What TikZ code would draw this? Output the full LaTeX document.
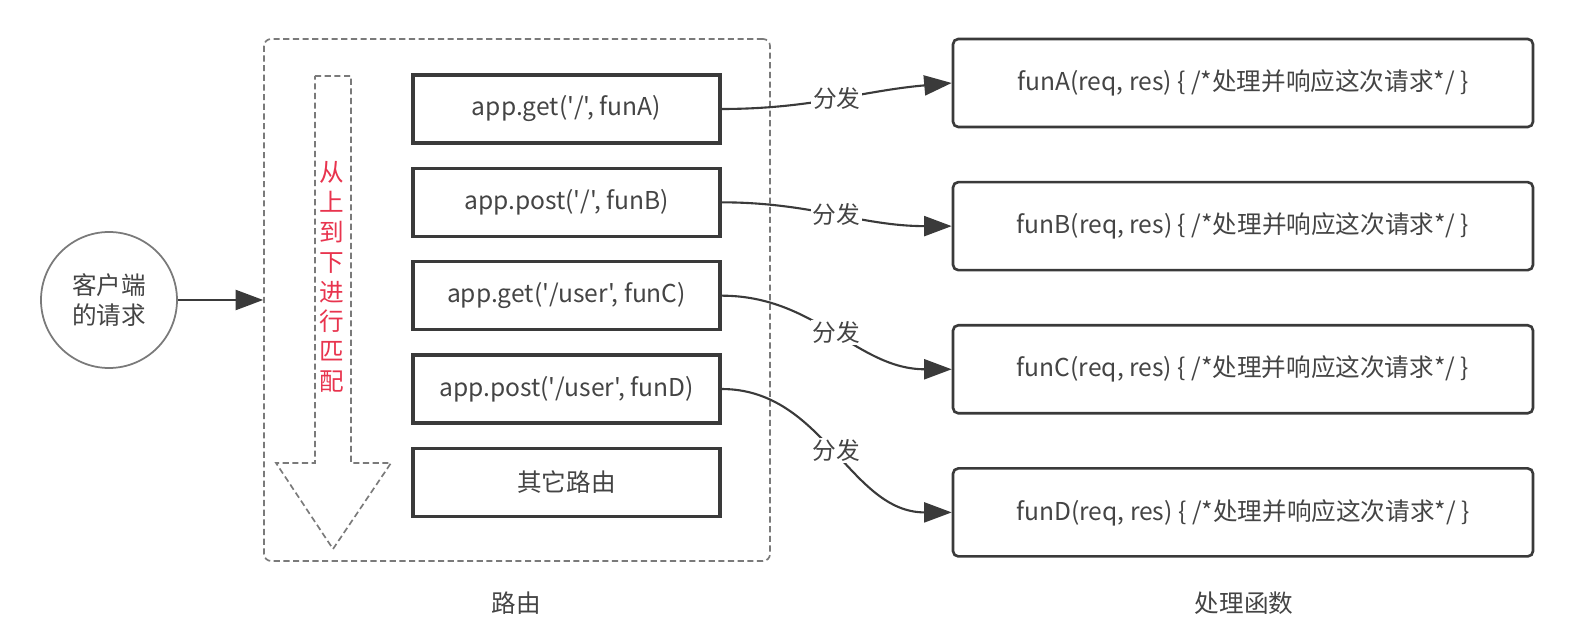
\documentclass[tikz,border=0pt]{standalone}
\usepackage{fontspec}
\setmainfont{Noto Sans CJK SC}[Ligatures=TeXOff]
\usetikzlibrary{positioning,arrows.meta}

\definecolor{linegray}{HTML}{3A3A3A}
\definecolor{textgray}{HTML}{444444}
\definecolor{dashgray}{HTML}{7A7A7A}
\definecolor{matchred}{HTML}{E8344E}

\tikzset{
  txt/.style={text=textgray, font=\fontsize{14}{17}\selectfont},
  routebox/.style={txt, draw=linegray, line width=1.9pt, minimum width=6.14cm, minimum height=1.36cm, inner sep=0pt},
  funbox/.style={txt, draw=linegray, line width=1.5pt, rounded corners=3pt, minimum width=11.6cm, minimum height=1.76cm, inner sep=0pt},
  dashline/.style={draw=dashgray, line width=0.95pt, dash pattern=on 3.5pt off 2pt},
  dispatch/.style={draw=linegray, line width=1.2pt, -{Triangle[length=0.55cm,width=0.4cm]}},
  dispatchlabel/.style={txt, fill=white, inner sep=1pt, font=\fontsize{13.5}{16}\selectfont}
}

\begin{document}
\begin{tikzpicture}
    \useasboundingbox (0,0) rectangle (31.88,12.5);

    % Cliente
    \node[txt, draw=dashgray, line width=1pt, circle, minimum size=2.72cm, align=center] (client) at (2.18,6.5) {客户端\\的请求};

    % Contenedor de rutas
    \node[dashline, rounded corners=4pt, minimum width=10.12cm, minimum height=10.44cm] (routes) at (10.34,6.5) {};
    \draw[dispatch] (client) -- (routes.west);

    % Flecha de orden
    \draw[dashline] (6.3,10.98) -- (7.02,10.98) -- (7.02,3.24) -- (7.82,3.24) -- (6.66,1.52)
        -- (5.52,3.24) -- (6.3,3.24) -- cycle;
    \node[text=matchred, align=center, font=\fontsize{14}{17}\selectfont] (order) at (6.64,6.96)
        {从\\上\\到\\下\\进\\行\\匹\\配};

    % Rutas
    \node[routebox] (rA) at (11.33,10.32) {app.get('/', funA)};
    \node[routebox, below=0.44cm of rA] (rB) {app.post('/', funB)};
    \node[routebox, below=0.44cm of rB] (rC) {app.get('/user', funC)};
    \node[routebox, below=0.44cm of rC] (rD) {app.post('/user', funD)};
    \node[routebox, below=0.44cm of rD] (rE) {其它路由};

    % Funciones
    \node[funbox] (fA) at (24.86,10.84) {funA(req, res) \{ /*处理并响应这次请求*/ \}};
    \node[funbox, below=1.05cm of fA] (fB) {funB(req, res) \{ /*处理并响应这次请求*/ \}};
    \node[funbox, below=1.05cm of fB] (fC) {funC(req, res) \{ /*处理并响应这次请求*/ \}};
    \node[funbox, below=1.05cm of fC] (fD) {funD(req, res) \{ /*处理并响应这次请求*/ \}};

    % Despacho
    \draw[dispatch] (rA.east) to[out=0, in=185] node[dispatchlabel] {分发} (fA.west);
    \draw[dispatch] (rB.east) to[out=0, in=180] node[dispatchlabel] {分发} (fB.west);
    \draw[dispatch] (rC.east) to[out=0, in=180] node[dispatchlabel] {分发} (fC.west);
    \draw[dispatch] (rD.east) to[out=0, in=180] node[dispatchlabel] {分发} (fD.west);

    % Etiquetas
    \node[txt] (routecap) at (10.32,0.44) {路由};
    \node[txt] (funcap) at (24.88,0.44) {处理函数};
\end{tikzpicture}
\end{document}
